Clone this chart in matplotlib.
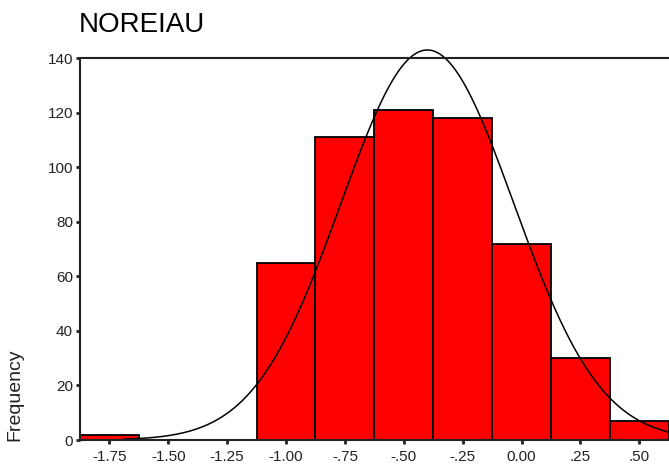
import numpy as np
import matplotlib
matplotlib.use("Agg")
import matplotlib.pyplot as plt

# Data
bin_centers = [-1.75, -1.50, -1.25, -1.00, -0.75, -0.50, -0.25, 0.00, 0.25, 0.50]
counts = [2, 0, 0, 65, 111, 121, 118, 72, 30, 7]
bin_width = 0.25
xtick_vals = [-1.75, -1.50, -1.25, -1.00, -0.75, -0.50, -0.25, 0.00, 0.25, 0.50]
xtick_labels = ["-1.75", "-1.50", "-1.25", "-1.00", "-.75", "-.50", "-.25", "0.00", ".25", ".50"]
ytick_vals = [0, 20, 40, 60, 80, 100, 120, 140]
curve_mean = -0.40
curve_sd = 0.367
curve_start = -1.69
title = "NOREIAU"
ylabel = "Frequency"

plt.rcParams['font.family'] = ['Liberation Sans', 'DejaVu Sans']

W, H = 669, 466
fig = plt.figure(figsize=(W / 100, H / 100), dpi=100)
xmin, xmax = -1.875, 0.65
ppu = 235.5
left_px, bottom_px, top_px = 80, 440, 58
ax = fig.add_axes([left_px / W, 1 - bottom_px / H, (xmax - xmin) * ppu / W, (bottom_px - top_px) / H])

ax.bar(bin_centers, counts, width=bin_width, color="#FF0000", edgecolor="black",
       linewidth=1.3, zorder=2)

n = sum(counts)
xs = np.linspace(curve_start, xmax, 400)
ys = n * bin_width / (curve_sd * np.sqrt(2 * np.pi)) * np.exp(-0.5 * ((xs - curve_mean) / curve_sd) ** 2)
ax.plot(xs, ys, color="black", linewidth=1.1, zorder=3, clip_on=False)

ax.set_xlim(xmin, xmax)
ax.set_ylim(0, 140)
ax.set_xticks(xtick_vals)
ax.set_xticklabels(xtick_labels)
ax.set_yticks(ytick_vals)

for s in ["left", "bottom", "top"]:
    ax.spines[s].set_linewidth(1.5)
    ax.spines[s].set_color("#222222")
    ax.spines[s].set_zorder(4)
ax.spines["right"].set_visible(False)

ax.tick_params(axis="both", direction="out", length=3, width=2, color="#222222",
               labelsize=11, labelcolor="#222222")
ax.tick_params(axis="x", pad=4)
ax.tick_params(axis="y", pad=2)

fig.text(79 / W, 1 - 25 / H, title, fontsize=20, ha="left", va="center", color="black")
fig.text(15 / W, 1 - 441 / H, ylabel, fontsize=14, rotation=90, ha="center", va="bottom", color="#222222")

fig.savefig("out.png", dpi=100)
